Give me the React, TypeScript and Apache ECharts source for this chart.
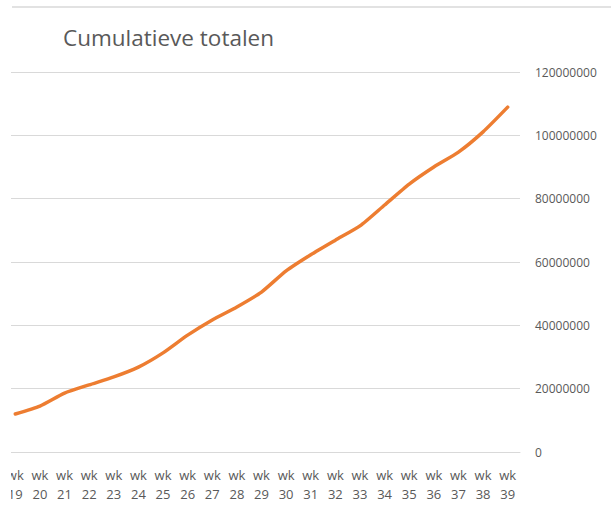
import React, { useEffect, useRef } from "react";
import * as echarts from "echarts";

const weeks = [
  "wk 19", "wk 20", "wk 21", "wk 22", "wk 23", "wk 24", "wk 25", "wk 26", "wk 27", "wk 28",
  "wk 29", "wk 30", "wk 31", "wk 32", "wk 33", "wk 34", "wk 35", "wk 36", "wk 37", "wk 38", "wk 39",
];

const cumulativeTotals = [
  12000000, 14500000, 18600000, 21200000, 23700000, 26800000, 31300000, 36900000, 41700000,
  45800000, 50500000, 57200000, 62300000, 66900000, 71400000, 78000000, 84600000, 90000000,
  94700000, 101100000, 108900000,
];

const titleText = "Cumulatieve totalen";
const yMin = 0;
const yMax = 120000000;
const yInterval = 20000000;

export default function App() {
  const ref = useRef<HTMLDivElement>(null);

  useEffect(() => {
    if (!ref.current) return;
    const chart = echarts.init(ref.current, undefined, { renderer: "svg" });
    chart.setOption({
      animation: false,
      backgroundColor: "#ffffff",
      textStyle: { fontFamily: "Open Sans" },
      grid: { left: 3, right: 91, top: 72, bottom: 58, containLabel: false },
      xAxis: {
        type: "category",
        data: weeks,
        boundaryGap: true,
        axisTick: { show: false },
        axisLine: { show: true, lineStyle: { color: "#d9d9d9", width: 1 } },
        axisLabel: {
          interval: 0,
          color: "#595959",
          fontSize: 13,
          fontFamily: "Open Sans",
          lineHeight: 19,
          margin: 13,
          formatter: (v: string) => v.replace(" ", "\n"),
        },
        splitLine: { show: false },
      },
      yAxis: {
        type: "value",
        position: "right",
        min: yMin,
        max: yMax,
        interval: yInterval,
        axisLine: { show: false },
        axisTick: { show: false },
        axisLabel: {
          color: "#595959",
          fontSize: 12,
          fontFamily: "Open Sans",
          margin: 15,
          formatter: (v: number) => String(v),
        },
        splitLine: { show: true, lineStyle: { color: "#d9d9d9", width: 1 } },
      },
      series: [
        {
          type: "line",
          data: cumulativeTotals,
          symbol: "none",
          smooth: 0.2,
          lineStyle: { color: "#ED7D31", width: 3.5, cap: "round", join: "round" },
          itemStyle: { color: "#ED7D31" },
        },
      ],
      graphic: [
        {
          type: "rect",
          left: 0,
          top: 0,
          z: 100,
          shape: { x: 0, y: 0, width: 11, height: 510 },
          style: { fill: "#ffffff" },
        },
        {
          type: "line",
          z: 100,
          shape: { x1: 12, y1: 7, x2: 611, y2: 7 },
          style: { stroke: "#d9d9d9", lineWidth: 1.5 },
        },
        {
          type: "text",
          left: 63,
          top: 26,
          z: 100,
          style: {
            text: titleText,
            fill: "#595959",
            fontSize: 22.5,
            fontFamily: "Open Sans",
          },
        },
      ],
    });
    return () => chart.dispose();
  }, []);

  return (
    <div
      ref={ref}
      style={{ position: "fixed", left: 0, top: 0, width: 611, height: 510 }}
    />
  );
}
